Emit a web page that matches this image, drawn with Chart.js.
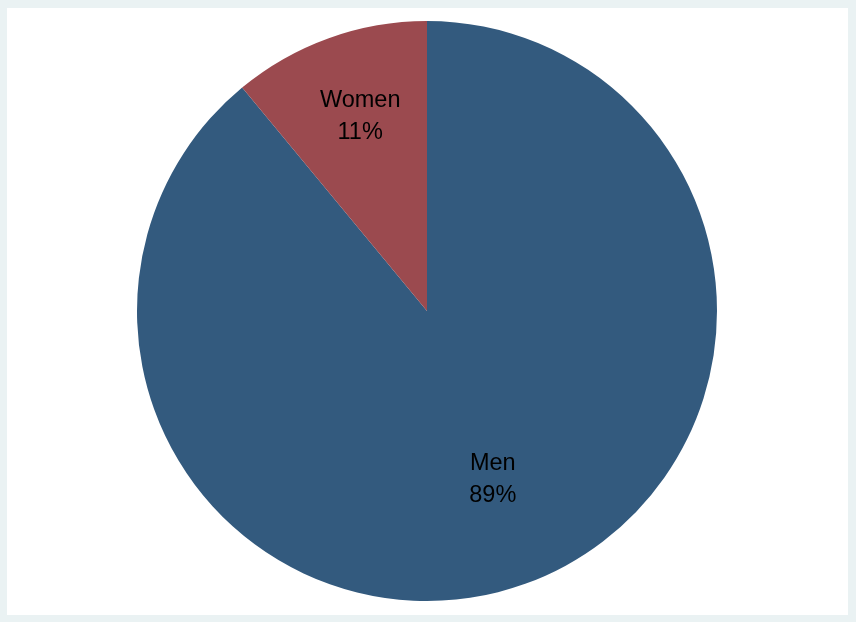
<!DOCTYPE html>
<html>
<head>
<meta charset="utf-8">
<script src="https://cdn.jsdelivr.net/npm/chart.js@4.4.0/dist/chart.umd.min.js"></script>
<style>
  html, body { margin: 0; padding: 0; background: #eaf2f3; }
  #wrap { width: 856px; height: 622px; }
</style>
</head>
<body>
<div id="wrap"><canvas id="c" width="856" height="622"></canvas></div>
<script>
const categories = ["Men", "Women"];
const values = [89, 11];
const colors = ["#335a7e", "#9b4a4f"];
const labelRadius = [0.613, 0.719];
const labelAngleFrac = [0.494, 0.528];

const bgPlugin = {
  id: 'bg',
  beforeDraw(chart) {
    const ctx = chart.ctx;
    ctx.save();
    ctx.fillStyle = '#eaf2f3';
    ctx.fillRect(0, 0, chart.width, chart.height);
    ctx.fillStyle = '#ffffff';
    ctx.fillRect(7, 8, 841, 607);
    ctx.restore();
  }
};

const labelPlugin = {
  id: 'sliceLabels',
  afterDatasetsDraw(chart) {
    const ctx = chart.ctx;
    const meta = chart.getDatasetMeta(0);
    const total = values.reduce((a, b) => a + b, 0);
    ctx.save();
    ctx.fillStyle = '#000000';
    ctx.font = '23.5px "Liberation Sans", Arial, sans-serif';
    ctx.textAlign = 'center';
    ctx.textBaseline = 'alphabetic';
    meta.data.forEach((arc, i) => {
      const p = arc.getProps(['x', 'y', 'startAngle', 'endAngle', 'outerRadius'], true);
      const ang = p.startAngle + (p.endAngle - p.startAngle) * labelAngleFrac[i];
      const d = p.outerRadius * labelRadius[i];
      const cx = p.x + Math.cos(ang) * d;
      const cy = p.y + Math.sin(ang) * d;
      const pct = Math.round(values[i] / total * 100) + '%';
      ctx.fillText(categories[i], cx, cy - 6);
      ctx.fillText(pct, cx, cy + 26);
    });
    ctx.restore();
  }
};

new Chart(document.getElementById('c'), {
  type: 'pie',
  data: {
    labels: categories,
    datasets: [{
      data: values,
      backgroundColor: colors,
      borderWidth: 0
    }]
  },
  options: {
    responsive: false,
    animation: false,
    rotation: 0,
    layout: { padding: { left: 137, right: 139, top: 21, bottom: 21 } },
    plugins: {
      legend: { display: false },
      tooltip: { enabled: false }
    }
  },
  plugins: [bgPlugin, labelPlugin]
});
</script>
</body>
</html>
